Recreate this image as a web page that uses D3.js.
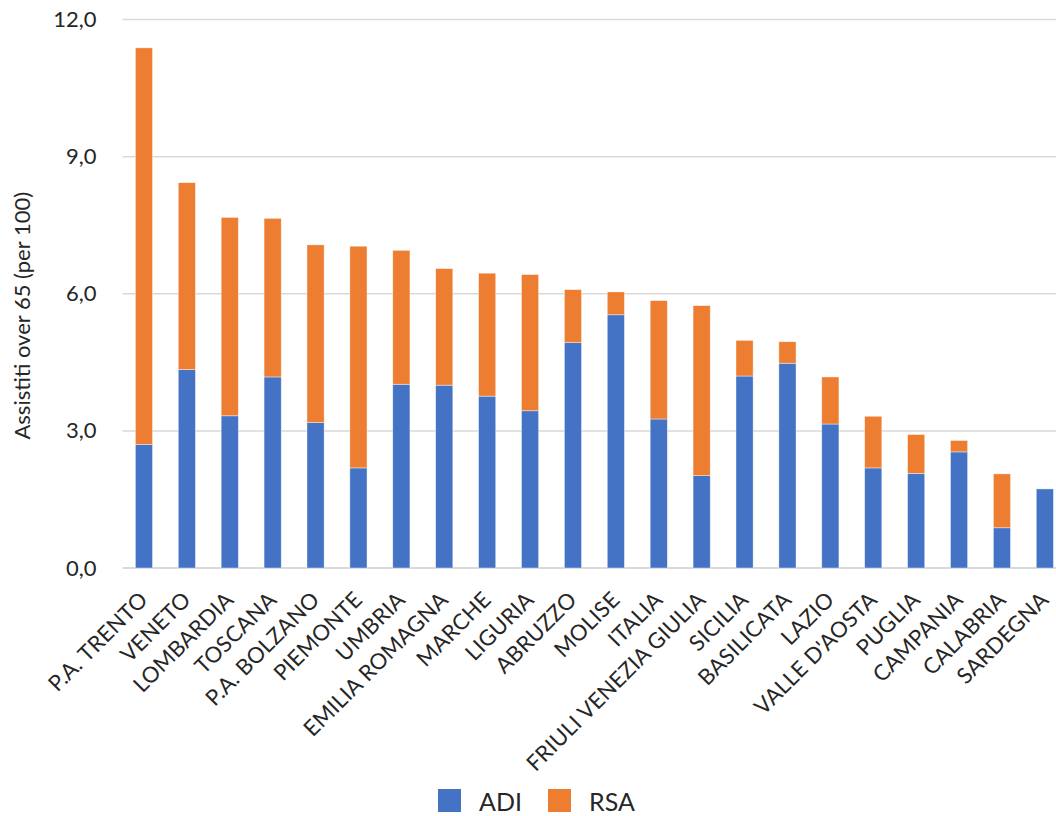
<!DOCTYPE html>
<html>
<head>
<meta charset="utf-8">
<script src="https://cdn.jsdelivr.net/npm/d3@7"></script>
<style>
  html, body { margin: 0; padding: 0; background: #fff; }
  svg { display: block; }
  text { font-family: "Lato", "Noto Sans", sans-serif; fill: #262626; }
</style>
</head>
<body>
<div id="chart"></div>
<script>
// Regions, sorted as in the source chart
const categories = [
    "P.A. TRENTO", "VENETO", "LOMBARDIA", "TOSCANA", "P.A. BOLZANO", "PIEMONTE",
    "UMBRIA", "EMILIA ROMAGNA", "MARCHE", "LIGURIA", "ABRUZZO", "MOLISE",
    "ITALIA", "FRIULI VENEZIA GIULIA", "SICILIA", "BASILICATA", "LAZIO",
    "VALLE D'AOSTA", "PUGLIA", "CAMPANIA", "CALABRIA", "SARDEGNA"
];
// Assistiti over 65 per 100
const adiValues = [2.70, 4.34, 3.33, 4.18, 3.18, 2.19, 4.02, 4.00, 3.76, 3.44, 4.93, 5.54,
                   3.26, 2.02, 4.20, 4.48, 3.15, 2.19, 2.07, 2.54, 0.88, 1.73];
const rsaValues = [8.68, 4.09, 4.34, 3.47, 3.89, 4.85, 2.93, 2.55, 2.69, 2.98, 1.16, 0.50,
                   2.59, 3.72, 0.78, 0.47, 1.03, 1.13, 0.85, 0.25, 1.18, 0.00];
const seriesNames = ["ADI", "RSA"];
const seriesColors = ["#4472C4", "#ED7D31"];
const yTicks = [0, 3, 6, 9, 12];
const yTitle = "Assistiti over 65 (per 100)";

const config = {
    width: 1056,
    height: 816,
    plotLeft: 122.5,
    plotRight: 1066.3,
    plotTop: 19.5,
    plotBottom: 568
};

const rows = categories.map((c, i) => ({ category: c, ADI: adiValues[i], RSA: rsaValues[i] }));
const stacked = d3.stack().keys(seriesNames)(rows);

const svg = d3.select("#chart")
    .append("svg")
    .attr("width", config.width)
    .attr("height", config.height);

const x = d3.scaleBand()
    .domain(categories)
    .range([config.plotLeft, config.plotRight])
    .paddingInner(0.6)
    .paddingOuter(0.3);

const y = d3.scaleLinear()
    .domain([0, 12])
    .range([config.plotBottom, config.plotTop]);

const itLocale = d3.formatLocale({ decimal: ",", thousands: ".", grouping: [3], currency: ["", " €"] });
const fmt = itLocale.format(".1f");

// gridlines
svg.append("g")
    .attr("class", "grid")
    .selectAll("line")
    .data(yTicks)
    .join("line")
    .attr("x1", config.plotLeft)
    .attr("x2", config.width)
    .attr("y1", d => y(d))
    .attr("y2", d => y(d))
    .attr("stroke", "#d9d9d9")
    .attr("stroke-width", d => d === 0 ? 2 : 1.5);

// y axis labels (no domain line, no ticks)
const yAxis = d3.axisLeft(y).tickValues(yTicks).tickFormat(fmt).tickSize(0).tickPadding(0);
svg.append("g")
    .attr("transform", `translate(${config.plotLeft - 26}, 0)`)
    .call(yAxis)
    .call(g => g.select(".domain").remove())
    .selectAll("text")
    .style("font-family", "Lato, sans-serif")
    .style("font-size", "22px")
    .attr("fill", "#262626");

// stacked bars
svg.append("g")
    .attr("class", "bars")
    .selectAll("g")
    .data(stacked)
    .join("g")
    .attr("fill", (d, i) => seriesColors[i])
    .selectAll("rect")
    .data(d => d)
    .join("rect")
    .attr("x", d => x(d.data.category))
    .attr("width", x.bandwidth())
    .attr("y", d => y(d[1]))
    .attr("height", d => y(d[0]) - y(d[1]))
    .attr("stroke", "#ffffff")
    .attr("stroke-opacity", 0.6)
    .attr("stroke-width", 0.7);

// x labels, rotated
svg.append("g")
    .attr("class", "x-labels")
    .selectAll("text")
    .data(categories)
    .join("text")
    .attr("transform", d => `translate(${x(d) + x.bandwidth() / 2 - 6}, ${config.plotBottom + 22}) rotate(-45)`)
    .attr("text-anchor", "end")
    .attr("dy", "0.72em")
    .style("font-size", "22px")
    .style("letter-spacing", "0.2px")
    .text(d => d);

// y axis title
svg.append("text")
    .attr("transform", `translate(22, ${(y(0) + y(12)) / 2 + 22}) rotate(-90)`)
    .attr("text-anchor", "middle")
    .attr("dy", "0.35em")
    .style("font-size", "22px")
    .text(yTitle);

// legend
const legend = svg.append("g")
    .attr("class", "legend")
    .attr("transform", "translate(438, 789)");

const legendItems = legend.selectAll("g")
    .data(seriesNames)
    .join("g")
    .attr("transform", (d, i) => `translate(${i * 110}, 0)`);

legendItems.append("rect")
    .attr("width", 23)
    .attr("height", 23)
    .attr("fill", (d, i) => seriesColors[i]);

legendItems.append("text")
    .attr("x", 41)
    .attr("y", 22)
    .style("font-size", "25px")
    .text(d => d);
</script>
</body>
</html>
